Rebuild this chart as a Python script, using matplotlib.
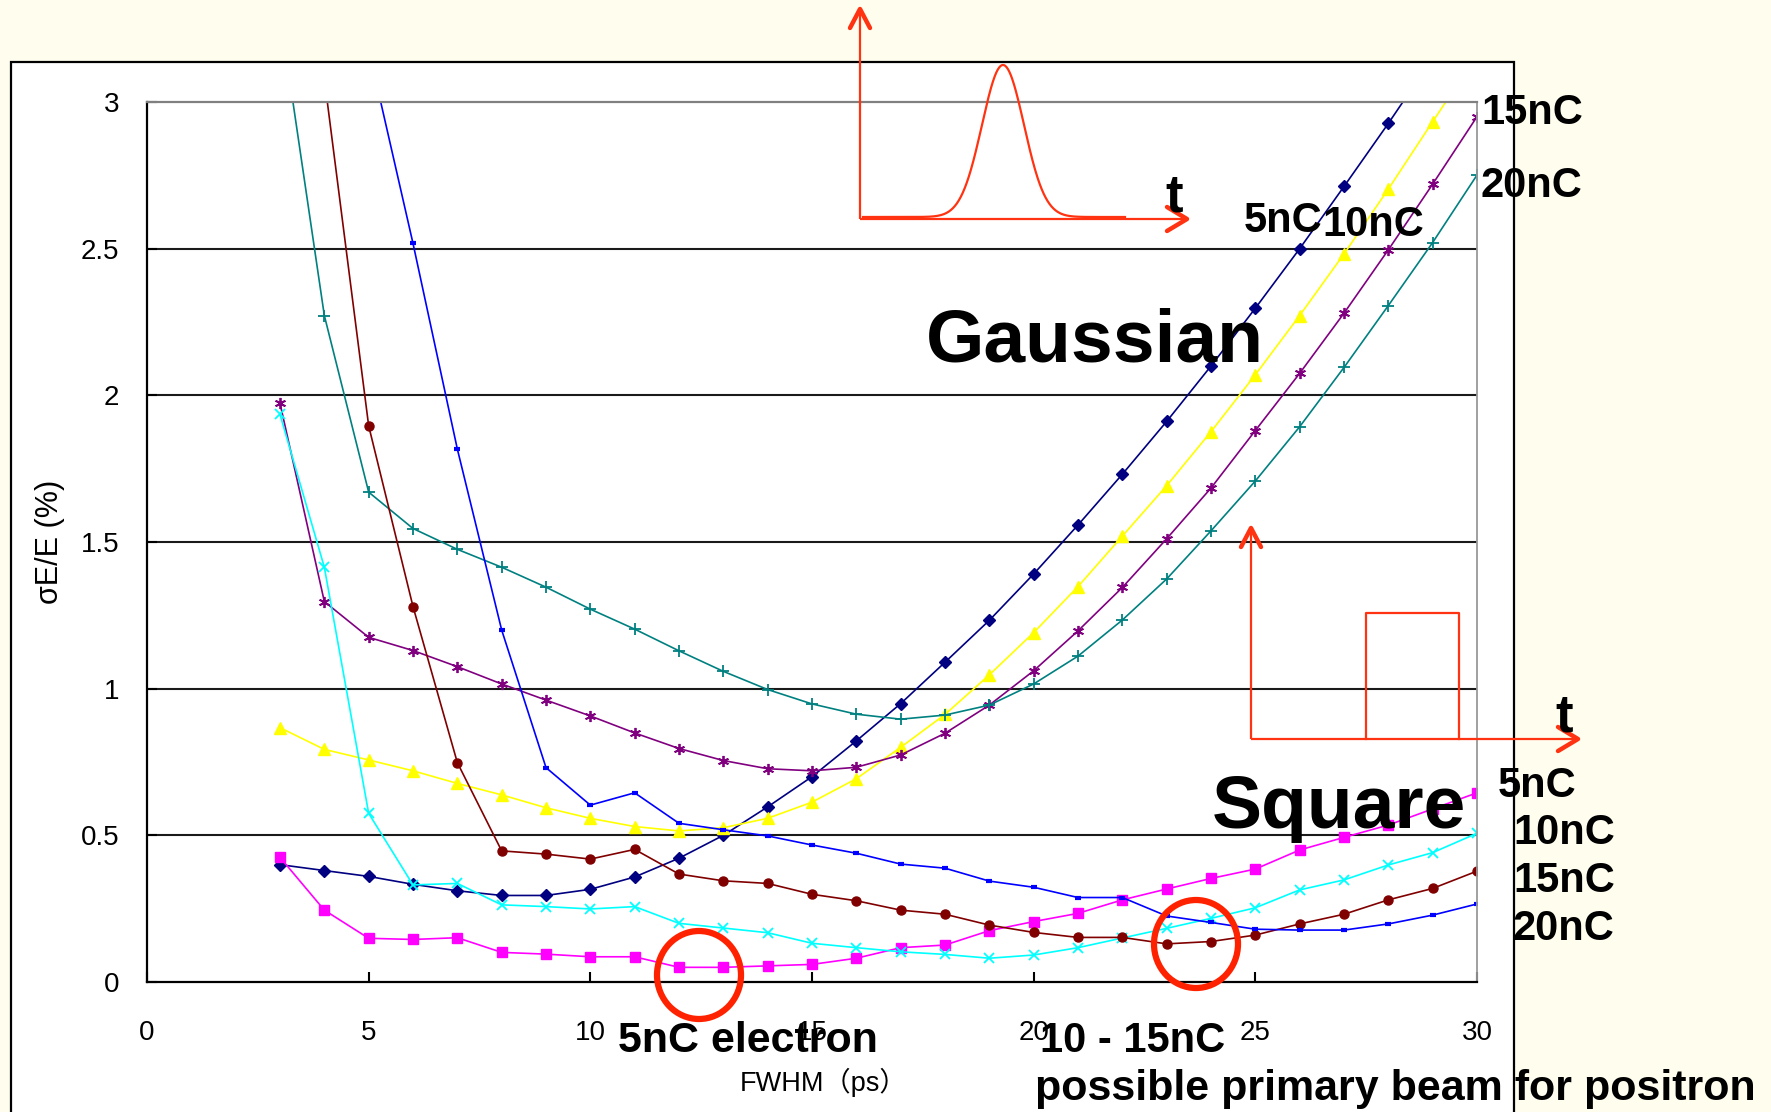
import numpy as np
import matplotlib
matplotlib.use('Agg')
import matplotlib.pyplot as plt
from matplotlib.patches import Rectangle, Ellipse

# ---------------- data ----------------
fwhm = list(range(3, 31))            # FWHM (ps), x = 3 .. 30
fwhm_from4 = list(range(4, 31))
fwhm_from5 = list(range(5, 31))

# Gaussian pulse
gauss_5nC = [0.40, 0.38, 0.36, 0.333, 0.311, 0.295, 0.295, 0.316, 0.358, 0.422,
             0.50, 0.597, 0.70, 0.822, 0.949, 1.09, 1.233, 1.391, 1.558, 1.731,
             1.911, 2.10, 2.297, 2.50, 2.712, 2.927, 3.15, 3.38]
gauss_10nC = [0.867, 0.793, 0.757, 0.72, 0.677, 0.638, 0.594, 0.558, 0.53, 0.515,
              0.526, 0.558, 0.613, 0.693, 0.80, 0.912, 1.047, 1.191, 1.348, 1.52,
              1.692, 1.876, 2.07, 2.272, 2.482, 2.703, 2.933, 3.16]
gauss_15nC = [1.973, 1.297, 1.175, 1.13, 1.075, 1.016, 0.961, 0.907, 0.849, 0.796,
              0.755, 0.727, 0.72, 0.732, 0.774, 0.848, 0.944, 1.061, 1.197, 1.345,
              1.511, 1.684, 1.88, 2.075, 2.28, 2.496, 2.72, 2.95]
gauss_20nC = [3.3, 2.272, 1.67, 1.546, 1.475, 1.414, 1.346, 1.271, 1.203, 1.129,
              1.059, 0.997, 0.948, 0.913, 0.896, 0.91, 0.944, 1.016, 1.111, 1.234,
              1.374, 1.538, 1.708, 1.893, 2.095, 2.306, 2.521, 2.751]

# Square pulse
square_5nC = [0.425, 0.245, 0.149, 0.145, 0.151, 0.101, 0.095, 0.086, 0.086, 0.05,
              0.05, 0.055, 0.06, 0.081, 0.117, 0.126, 0.175, 0.206, 0.234, 0.28,
              0.317, 0.353, 0.385, 0.45, 0.493, 0.535, 0.59, 0.645]
square_10nC = [1.935, 1.414, 0.575, 0.331, 0.336, 0.263, 0.257, 0.249, 0.257, 0.2,
               0.184, 0.168, 0.132, 0.117, 0.103, 0.094, 0.081, 0.092, 0.117, 0.15,
               0.183, 0.217, 0.253, 0.314, 0.348, 0.399, 0.441, 0.507]
square_15nC = [3.08, 1.896, 1.28, 0.748, 0.447, 0.436, 0.419, 0.452, 0.368, 0.345,
               0.336, 0.299, 0.277, 0.245, 0.231, 0.194, 0.169, 0.152, 0.152, 0.13,
               0.138, 0.16, 0.198, 0.231, 0.28, 0.319, 0.378]
square_20nC = [3.18, 2.518, 1.817, 1.2, 0.731, 0.603, 0.645, 0.541, 0.519, 0.498,
               0.467, 0.439, 0.402, 0.388, 0.344, 0.323, 0.288, 0.288, 0.225, 0.203,
               0.18, 0.177, 0.177, 0.198, 0.228, 0.266]

xticks = [0, 5, 10, 15, 20, 25, 30]
xtick_labels = ['0', '5', '10', '15', '20', '25', '30']
yticks = [0, 0.5, 1, 1.5, 2, 2.5, 3]
ytick_labels = ['0', '0.5', '1', '1.5', '2', '2.5', '3']

# ---------------- figure ----------------
plt.rcParams['font.family'] = ['Liberation Sans', 'Noto Sans CJK JP', 'DejaVu Sans']
W, H, DPI = 1771, 1112, 100
CREAM = '#FFFDEE'
RED = '#FF3311'

fig = plt.figure(figsize=(W / DPI, H / DPI), dpi=DPI, facecolor=CREAM)

# background layer (pixel coordinates)
bg = fig.add_axes([0, 0, 1, 1], zorder=0)
bg.set_xlim(0, W); bg.set_ylim(H, 0); bg.axis('off')
bg.add_patch(Rectangle((11, 62), 1503, 1200, facecolor='white',
                       edgecolor='black', lw=1.6))

# main chart
L, R, T, B = 147, 1477, 102, 982
ax = fig.add_axes([L / W, 1 - B / H, (R - L) / W, (B - T) / H], zorder=1)
ax.set_facecolor('white')
ax.set_xlim(0, 30)
ax.set_ylim(0, 3)

for yv in yticks[1:-1]:
    ax.axhline(yv, color='#1a1a1a', lw=1.5, zorder=0.5)

series = [
    (fwhm, gauss_5nC, '#000080', 'D', 6.5, dict()),
    (fwhm, gauss_10nC, '#FFFF00', '^', 8.5, dict()),
    (fwhm, gauss_15nC, '#800080', (6, 2, 0), 8, dict(markeredgewidth=1.3)),
    (fwhm, gauss_20nC, '#008080', '+', 8, dict(markeredgewidth=1.3)),
    (fwhm, square_5nC, '#FF00FF', 's', 6.5, dict()),
    (fwhm, square_10nC, '#00FFFF', 'x', 7, dict(markeredgewidth=1.3)),
    (fwhm_from4, square_15nC, '#800000', 'o', 6.5, dict()),
    (fwhm_from5, square_20nC, '#0000FF', '_', 5, dict(markeredgewidth=3)),
]
for xs, ys, col, mk, ms, kw in series:
    ax.plot(xs, ys, color=col, lw=1.2, marker=mk, markersize=ms,
            markerfacecolor=col, markeredgecolor=col, zorder=2, **kw)

ax.set_xticks(xticks)
ax.set_xticklabels(xtick_labels)
ax.set_yticks(yticks)
ax.set_yticklabels(ytick_labels)
ax.tick_params(axis='both', direction='in', length=7, width=1.5,
               labelsize=20, color='black')
ax.tick_params(axis='y', pad=20)
ax.tick_params(axis='x', pad=27)

ax.spines['left'].set_color('black'); ax.spines['left'].set_linewidth(1.6)
ax.spines['bottom'].set_color('black'); ax.spines['bottom'].set_linewidth(1.6)
ax.spines['top'].set_color('#808080'); ax.spines['top'].set_linewidth(1.6)
ax.spines['right'].set_color('#999999'); ax.spines['right'].set_linewidth(1.3)

ax.set_xlabel('FWHM（ps）', fontsize=19.5, labelpad=13)
ax.xaxis.set_label_coords(0.509, -0.098)
ax.set_ylabel('σE/E (%)', fontsize=22, labelpad=11)

# ---------------- annotation layer (pixel coordinates) ----------------
an = fig.add_axes([0, 0, 1, 1], zorder=3)
an.set_xlim(0, W); an.set_ylim(H, 0); an.axis('off')
an.patch.set_alpha(0)

def arrow(x0, y0, x1, y1, head):
    an.plot([x0, x1], [y0, y1], color=RED, lw=1.6, solid_capstyle='butt')
    an.plot([p[0] for p in head], [p[1] for p in head], color=RED, lw=3.2,
            solid_capstyle='round', solid_joinstyle='round')

# Gaussian pulse sketch
arrow(860, 219, 860, 9, [(850, 28), (860, 9), (870, 28)])
arrow(860, 219, 1187, 219, [(1167, 207), (1187, 219), (1167, 231)])
tt = np.linspace(863, 1125, 400)
an.plot(tt, 217 - 152 * np.exp(-0.5 * ((tt - 1003) / 21) ** 2), color=RED, lw=1.6)
an.text(1174, 212, 't', fontsize=38, fontweight='bold', ha='center', va='baseline')

# Square pulse sketch
arrow(1251, 739, 1251, 528, [(1241, 547), (1251, 528), (1261, 547)])
arrow(1251, 739, 1578, 739, [(1558, 727), (1578, 739), (1558, 751)])
an.plot([1366, 1366, 1459, 1459], [739, 613, 613, 739], color=RED, lw=1.6)
an.text(1564, 731, 't', fontsize=38, fontweight='bold', ha='center', va='baseline')

# circles
an.add_patch(Ellipse((699, 975), 84, 88, fill=False, ec='#FF2200', lw=4.5))
an.add_patch(Ellipse((1196, 944), 84, 88, fill=False, ec='#FF2200', lw=4.5))

# texts
bold = dict(fontweight='bold', ha='left', va='baseline', color='black')
an.text(926, 361, 'Gaussian', fontsize=54, **bold)
an.text(1212, 828, 'Square', fontsize=54, **bold)
an.text(1481, 124, '15nC', fontsize=30, **bold)
an.text(1481, 197, '20nC', fontsize=30, **bold)
an.text(1244, 232, '5nC', fontsize=30, **bold)
an.text(1322, 236, '10nC', fontsize=30, **bold)
an.text(1498, 797, '5nC', fontsize=30, **bold)
an.text(1513, 844, '10nC', fontsize=30, **bold)
an.text(1513, 892, '15nC', fontsize=30, **bold)
an.text(1513, 940, '20nC', fontsize=30, **bold)
an.text(618, 1052, '5nC electron', fontsize=31, **bold)
an.text(1040, 1052, '10 - 15nC', fontsize=30, **bold)
an.text(1035, 1100, 'possible primary beam for positron', fontsize=31, **bold)

fig.savefig('out.png', dpi=DPI, facecolor=CREAM)
